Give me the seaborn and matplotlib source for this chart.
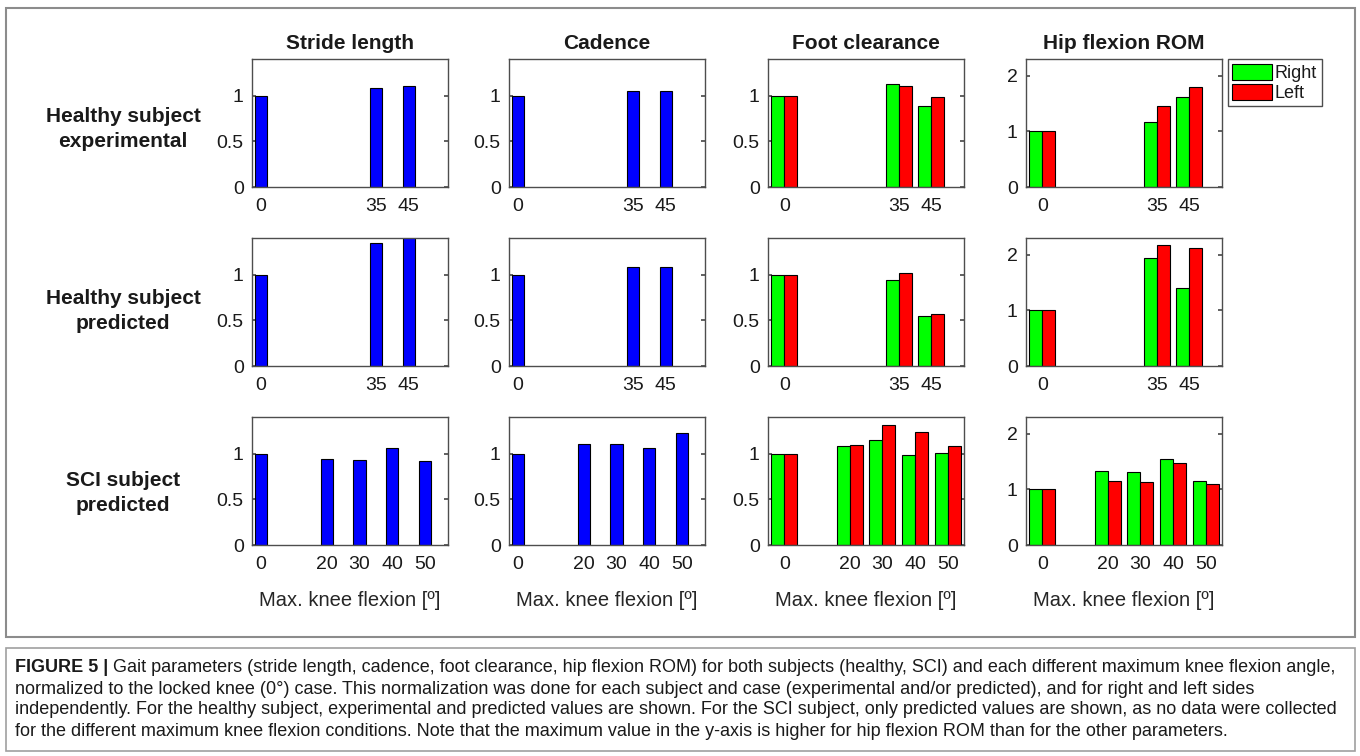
import matplotlib
matplotlib.use('Agg')
import matplotlib.pyplot as plt
import seaborn as sns
import pandas as pd
from matplotlib.patches import Rectangle

# knee flexion conditions
knee_healthy = [0, 35, 45]
knee_sci = [0, 20, 30, 40, 50]

# healthy subject, experimental
stride_healthy_exp = [1.00, 1.08, 1.11]
cadence_healthy_exp = [1.00, 1.05, 1.05]
foot_right_healthy_exp = [1.00, 1.13, 0.89]
foot_left_healthy_exp = [1.00, 1.10, 0.98]
hip_right_healthy_exp = [1.00, 1.16, 1.61]
hip_left_healthy_exp = [1.00, 1.45, 1.79]

# healthy subject, predicted
stride_healthy_pred = [1.00, 1.34, 1.42]
cadence_healthy_pred = [1.00, 1.085, 1.085]
foot_right_healthy_pred = [1.00, 0.94, 0.545]
foot_left_healthy_pred = [1.00, 1.02, 0.57]
hip_right_healthy_pred = [1.00, 1.94, 1.41]
hip_left_healthy_pred = [1.00, 2.17, 2.12]

# SCI subject, predicted
stride_sci_pred = [1.00, 0.94, 0.93, 1.06, 0.92]
cadence_sci_pred = [1.00, 1.10, 1.10, 1.06, 1.22]
foot_right_sci_pred = [1.00, 1.08, 1.15, 0.98, 1.01]
foot_left_sci_pred = [1.00, 1.09, 1.31, 1.24, 1.08]
hip_right_sci_pred = [1.00, 1.33, 1.31, 1.54, 1.145]
hip_left_sci_pred = [1.00, 1.145, 1.127, 1.476, 1.09]

params = ['Stride length', 'Cadence', 'Foot clearance', 'Hip flexion ROM']
row_names = ['Healthy subject\nexperimental', 'Healthy subject\npredicted',
             'SCI subject\npredicted']
sides = ['Right', 'Left']

caption_bold = 'FIGURE 5 |'
caption_lines = [
    ' Gait parameters (stride length, cadence, foot clearance, hip flexion ROM) for both subjects (healthy, SCI) and each different maximum knee flexion angle,',
    'normalized to the locked knee (0°) case. This normalization was done for each subject and case (experimental and/or predicted), and for right and left sides',
    'independently. For the healthy subject, experimental and predicted values are shown. For the SCI subject, only predicted values are shown, as no data were collected',
    'for the different maximum knee flexion conditions. Note that the maximum value in the y-axis is higher for hip flexion ROM than for the other parameters.',
]

rows = [
    (knee_healthy, stride_healthy_exp, cadence_healthy_exp,
     (foot_right_healthy_exp, foot_left_healthy_exp),
     (hip_right_healthy_exp, hip_left_healthy_exp)),
    (knee_healthy, stride_healthy_pred, cadence_healthy_pred,
     (foot_right_healthy_pred, foot_left_healthy_pred),
     (hip_right_healthy_pred, hip_left_healthy_pred)),
    (knee_sci, stride_sci_pred, cadence_sci_pred,
     (foot_right_sci_pred, foot_left_sci_pred),
     (hip_right_sci_pred, hip_left_sci_pred)),
]

BLUE, GREEN, RED = '#0000ff', '#00ff00', '#ff0000'
SPINE = '#4d4d4d'

sns.set_theme(style='white')
plt.rcParams['font.family'] = ['Liberation Sans Narrow', 'Liberation Sans', 'DejaVu Sans']
plt.rcParams['text.color'] = '#1a1a1a'

W, H = 1360, 756
fig = plt.figure(figsize=(13.6, 7.56), dpi=100)
fig.patch.set_facecolor('white')


def box(x, y, w, h):
    # pixel box (top-left origin) -> figure fraction
    return [x / W, 1 - (y + h) / H, w / W, h / H]


col_x = [252, 509, 768, 1026]
row_y = [59, 238, 417]
ax_w, ax_h = 196, 128
label_y = [129, 311, 493]

for r, (knee, stride, cadence, foot, hip) in enumerate(rows):
    for c in range(4):
        ax = fig.add_axes(box(col_x[c], row_y[r], ax_w, ax_h))
        if c < 2:
            vals = [stride, cadence][c]
            sns.barplot(x=knee, y=vals, native_scale=True, width=0.37, color=BLUE,
                        saturation=1, edgecolor='black', linewidth=0.8,
                        errorbar=None, ax=ax)
            ax.set_xlim(-2.8, 57)
        else:
            right, left = [foot, hip][c - 2]
            df = pd.DataFrame({'knee': knee + knee,
                               'value': right + left,
                               'side': ['Right'] * len(knee) + ['Left'] * len(knee)})
            sns.barplot(data=df, x='knee', y='value', hue='side', hue_order=sides,
                        palette={'Right': GREEN, 'Left': RED}, native_scale=True,
                        width=0.8, saturation=1, edgecolor='black', linewidth=0.8,
                        errorbar=None, legend=(r == 0 and c == 3), ax=ax)
            ax.set_xlim(-5, 55)

        if c == 3:
            ax.set_ylim(0, 2.3)
            ax.set_yticks([0, 1, 2], labels=['0', '1', '2'])
        else:
            ax.set_ylim(0, 1.4)
            ax.set_yticks([0, 0.5, 1], labels=['0', '0.5', '1'])
        ax.set_xticks(knee, labels=[str(k) for k in knee])
        ax.set_xlabel('')
        ax.set_ylabel('')
        for s in ax.spines.values():
            s.set_color(SPINE)
            s.set_linewidth(1)
        ax.tick_params(axis='y', direction='in', length=3, left=True, right=True,
                       color=SPINE, labelsize=14, pad=6, labelcolor='#1a1a1a')
        ax.tick_params(axis='x', length=0, labelsize=14, pad=8, labelcolor='#1a1a1a')

        if r == 0:
            ax.set_title(params[c], fontsize=15, fontweight='bold', pad=7)
        if r == 2:
            ax.set_xlabel('Max. knee flexion [º]', fontsize=14.5, labelpad=13)
        if r == 0 and c == 3:
            sns.move_legend(ax, 'upper left', bbox_to_anchor=(1.03, 1.0), title=None,
                            frameon=True, fancybox=False, edgecolor=SPINE,
                            framealpha=1, fontsize=13, handlelength=2.2,
                            handleheight=1.0, handletextpad=0.15, borderpad=0.25,
                            labelspacing=0.1, borderaxespad=0)

    fig.text(123 / W, 1 - label_y[r] / H, row_names[r], ha='center', va='center',
             fontsize=15, fontweight='bold', linespacing=1.45)

# frames around the figure and the caption
fig.add_artist(Rectangle((6 / W, 1 - 637 / H), 1349 / W, 629 / H, transform=fig.transFigure,
                         fill=False, ec='#8c8c8c', lw=1.5))
fig.add_artist(Rectangle((6 / W, 1 - 751 / H), 1349 / W, 103 / H, transform=fig.transFigure,
                         fill=False, ec='#a0a0a0', lw=1.2))

# caption
cap_fs = 13
cap_y = [668, 689, 710, 731]
renderer = fig.canvas.get_renderer()
t = fig.text(15 / W, 1 - cap_y[0] / H, caption_bold, fontsize=cap_fs, fontweight='bold',
             va='center')
bb = t.get_window_extent(renderer)
fig.text(bb.x1 / W, 1 - cap_y[0] / H, caption_lines[0], fontsize=cap_fs, va='center')
for i in range(1, 4):
    fig.text(15 / W, 1 - cap_y[i] / H, caption_lines[i], fontsize=cap_fs, va='center')

fig.savefig('out.png', dpi=100)
